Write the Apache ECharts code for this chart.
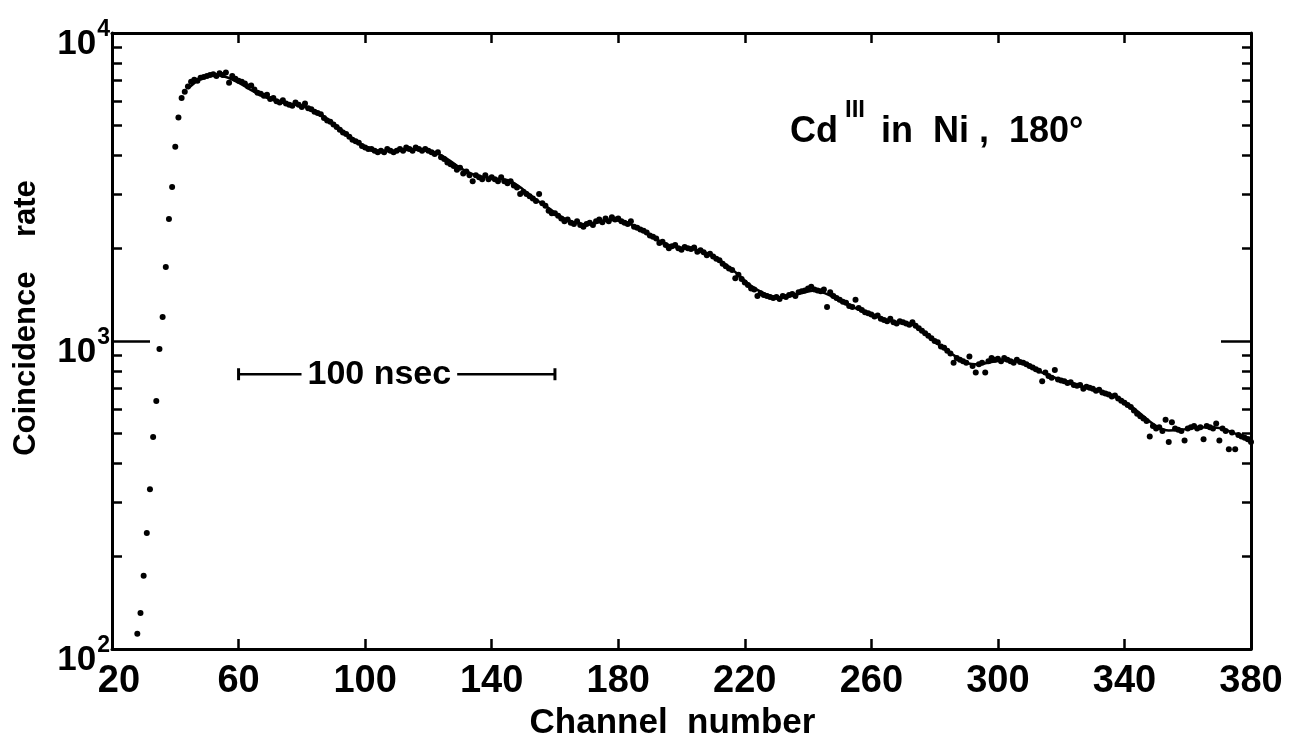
<!DOCTYPE html>
<html><head><meta charset="utf-8">
<script src="https://cdn.jsdelivr.net/npm/echarts@6/dist/echarts.min.js"></script>
<style>html,body{margin:0;padding:0;background:#fff}#c{width:1289px;height:749px}</style>
</head><body><div id="c"></div>
<script>
const FONT = "'Liberation Sans', Arial, sans-serif";
const xTicks = [20, 60, 100, 140, 180, 220, 260, 300, 340, 380];
const yMajor = [100, 1000, 10000];
const yMinor = [200, 300, 400, 500, 600, 700, 800, 900, 2000, 3000, 4000, 5000, 6000, 7000, 8000, 9000];
const xTitle = 'Channel  number';
const yTitle = 'Coincidence    rate';
const panelLabel = ['Cd', 'III', ' in  Ni ,  180°'];

// measured coincidence counts, one per channel starting at channel 28
const dotStart = 28;
const dots = [
  112,131,173,238,330,488,638,942,1197,1738,2489,3162,4276,5320,6150,
  6450,6700,6950,7050,7000,7150,7200,
  7250,7300,7350,7250,7400,7300,7450,6900,7250,7100,
  7000,6950,6850,6700,6750,6550,6400,6350,6250,6300,
  6100,6150,6000,5950,6050,5900,5850,5800,5950,5850,
  5750,5900,5700,5650,5550,5500,5450,5300,5200,5150,
  5050,4950,4850,4750,4700,4600,4500,4450,4400,4300,
  4250,4200,4200,4150,4100,4150,4100,4200,4150,4100,
  4150,4200,4150,4250,4200,4150,4250,4200,4150,4200,
  4150,4100,4050,4100,3950,3900,3800,3750,3700,3600,
  3650,3500,3550,3450,3300,3450,3400,3350,3450,3350,
  3400,3350,3300,3400,3300,3250,3300,3200,3150,3000,
  3050,3000,2950,2900,2850,3000,2800,2750,2650,2600,
  2600,2550,2500,2450,2480,2420,2400,2450,2380,2350,
  2400,2420,2380,2450,2480,2430,2500,2450,2520,2480,
  2500,2450,2420,2400,2450,2350,2330,2300,2280,2250,
  2200,2180,2150,2080,2100,2050,2000,2030,2050,2000,
  1980,2020,2000,1990,2010,1950,1970,1940,1900,1920,
  1880,1850,1830,1780,1750,1720,1700,1600,1640,1590,
  1550,1520,1480,1470,1400,1430,1410,1400,1390,1380,
  1390,1370,1400,1390,1410,1420,1400,1440,1450,1460,
  1480,1500,1470,1460,1450,1470,1290,1440,1400,1380,
  1360,1340,1330,1300,1290,1360,1280,1260,1240,1230,
  1220,1200,1210,1180,1170,1160,1180,1150,1140,1160,
  1150,1140,1130,1150,1120,1100,1080,1060,1040,1020,
  1000,990,960,950,930,910,850,880,870,860,
  850,890,830,790,840,850,790,860,880,870,
  875,860,880,870,860,850,870,855,850,840,
  830,820,810,800,740,790,770,760,805,750,
  745,740,730,735,720,715,720,700,710,705,
  700,690,695,680,675,670,660,665,650,640,
  630,620,610,595,580,570,560,550,490,530,
  520,525,510,555,470,545,520,515,510,475,
  520,525,530,520,525,480,530,525,520,540,
  475,520,510,445,505,445,495,490,485,480,
  470
];

// fitted curve
const fitChannels = [44,48,52,56,60,66,72,78,82,86,90,94,98,102,106,110,114,118,122,126,130,134,138,142,146,150,154,158,162,166,170,174,178,182,186,190,194,198,202,206,210,214,218,222,226,230,234,238,242,246,250,254,258,262,266,270,274,278,282,286,290,294,298,302,306,310,314,318,322,326,330,334,338,342,346,350,354,358,362,366,370,374,378,380];
const fitValues   = [6600,7100,7300,7200,6900,6350,6000,5850,5720,5450,5080,4720,4400,4200,4130,4140,4180,4180,4100,3900,3650,3480,3400,3360,3300,3100,2880,2700,2530,2430,2390,2430,2470,2430,2340,2210,2090,2020,2000,1960,1890,1770,1640,1510,1430,1385,1395,1430,1460,1420,1350,1290,1240,1200,1160,1140,1120,1040,960,900,850,840,855,865,860,830,790,760,735,715,700,680,655,615,570,530,512,515,522,525,522,505,488,484];

// 100 nsec scale bar
const scaleBarChannels = [60, 160];
const scaleBarLevel = 780;
const scaleBarText = '100 nsec';
const scaleBarTextChannel = 104.5;

const chart = echarts.init(document.getElementById('c'), null, {renderer: 'canvas'});
const black = '#000';
const dotData = dots.map((v, i) => [dotStart + i, v]);
const fitData = fitChannels.map((c, i) => [c, fitValues[i]]);

const logAxisBase = {
  type: 'log', logBase: 10, min: yMajor[0], max: yMajor[yMajor.length - 1],
  splitLine: {show: false}
};
const tickFont = {color: black, fontWeight: 'bold', fontFamily: FONT};

chart.setOption({
  backgroundColor: '#fff',
  animation: false,
  grid: {left: 112, right: 38, top: 33, bottom: 100},
  xAxis: [
    {
      type: 'value', min: xTicks[0], max: xTicks[xTicks.length - 1], interval: 40,
      position: 'bottom',
      axisLine: {lineStyle: {color: black, width: 3}},
      axisTick: {inside: true, length: 10, lineStyle: {color: black, width: 2.5}, customValues: xTicks},
      axisLabel: {customValues: xTicks, showMinLabel: true, showMaxLabel: true, margin: 14,
        formatter: v => v === xTicks[0] ? '{f|' + v + '}' : '{n|' + v + '}',
        rich: {
          f: Object.assign({fontSize: 38, padding: [0, 0, 0, 14]}, tickFont),
          n: Object.assign({fontSize: 38}, tickFont)
        }},
      splitLine: {show: false},
      name: xTitle, nameLocation: 'middle', nameGap: 54,
      nameTextStyle: {color: black, fontSize: 35, fontWeight: 'bold', fontFamily: FONT, padding: [0, 18, 0, 0]}
    },
    {
      type: 'value', min: xTicks[0], max: xTicks[xTicks.length - 1], interval: 40,
      position: 'top',
      axisLine: {lineStyle: {color: black, width: 3}},
      axisTick: {inside: true, length: 10, lineStyle: {color: black, width: 2.5}, customValues: xTicks},
      axisLabel: {show: false},
      splitLine: {show: false}
    }
  ],
  yAxis: [
    Object.assign({}, logAxisBase, {
      position: 'left',
      axisLine: {show: true, lineStyle: {color: black, width: 3}},
      axisTick: {show: true, inside: true, length: 38, lineStyle: {color: black, width: 2.5}, customValues: [1000]},
      axisLabel: {
        customValues: yMajor, showMinLabel: true, showMaxLabel: true, margin: 2,
        formatter: v => '{b|10}{s|' + Math.round(Math.log10(v)) + '}',
        padding: [14, 0, 0, 0],
        rich: {
          b: Object.assign({fontSize: 35, lineHeight: 44, verticalAlign: 'bottom'}, tickFont),
          s: Object.assign({fontSize: 23, lineHeight: 26, verticalAlign: 'top', padding: [0, 0, 0, 1]}, tickFont)
        }
      },
      name: yTitle, nameLocation: 'middle', nameRotate: 90, nameGap: 70,
      nameTextStyle: {color: black, fontSize: 31, fontWeight: 'bold', fontFamily: FONT, padding: [0, 0, 0, 46]}
    }),
    Object.assign({}, logAxisBase, {
      position: 'right',
      axisLine: {show: true, lineStyle: {color: black, width: 3}},
      axisTick: {show: true, inside: true, length: 30, lineStyle: {color: black, width: 2.5}, customValues: [1000]},
      axisLabel: {show: false}
    }),
    Object.assign({}, logAxisBase, {
      position: 'left',
      axisLine: {show: false},
      axisTick: {show: true, inside: true, length: 10, lineStyle: {color: black, width: 2.5}, customValues: yMinor},
      axisLabel: {show: false}
    }),
    Object.assign({}, logAxisBase, {
      position: 'right',
      axisLine: {show: false},
      axisTick: {show: true, inside: true, length: 9, lineStyle: {color: black, width: 2.5}, customValues: yMinor},
      axisLabel: {show: false}
    })
  ],
  graphic: [
    {
      type: 'text', left: 790, top: 98, silent: true,
      style: {
        text: '{m|' + panelLabel[0] + '}{s|' + panelLabel[1] + '}{m|' + panelLabel[2] + '}',
        rich: {
          m: {fontSize: 36, fontWeight: 'bold', fontFamily: FONT, fill: black, lineHeight: 52, verticalAlign: 'bottom'},
          s: {fontSize: 24, fontWeight: 'bold', fontFamily: FONT, fill: black, lineHeight: 28, verticalAlign: 'top', padding: [0, 6, 0, 7]}
        }
      }
    }
  ],
  series: [
    {
      type: 'scatter', data: dotData, symbol: 'circle', symbolSize: 6,
      itemStyle: {color: black, opacity: 1}, z: 3
    },
    {
      type: 'line', data: fitData, smooth: 0.35, showSymbol: false,
      lineStyle: {color: black, width: 2.5}, z: 4
    },
    {
      type: 'line', data: scaleBarChannels.map(c => [c, scaleBarLevel]),
      showSymbol: true, symbol: 'rect', symbolSize: [3, 12],
      itemStyle: {color: black, opacity: 1}, lineStyle: {color: black, width: 2.5}, z: 5
    },
    {
      type: 'scatter', data: [[scaleBarTextChannel, scaleBarLevel]], symbolSize: 1,
      itemStyle: {color: 'rgba(0,0,0,0)', opacity: 1}, z: 6,
      label: {show: true, position: 'inside', formatter: scaleBarText, color: black, opacity: 1,
        fontSize: 34, fontWeight: 'bold', fontFamily: FONT, backgroundColor: '#fff', padding: [2, 6]}
    }
  ]
});
</script>
</body></html>
